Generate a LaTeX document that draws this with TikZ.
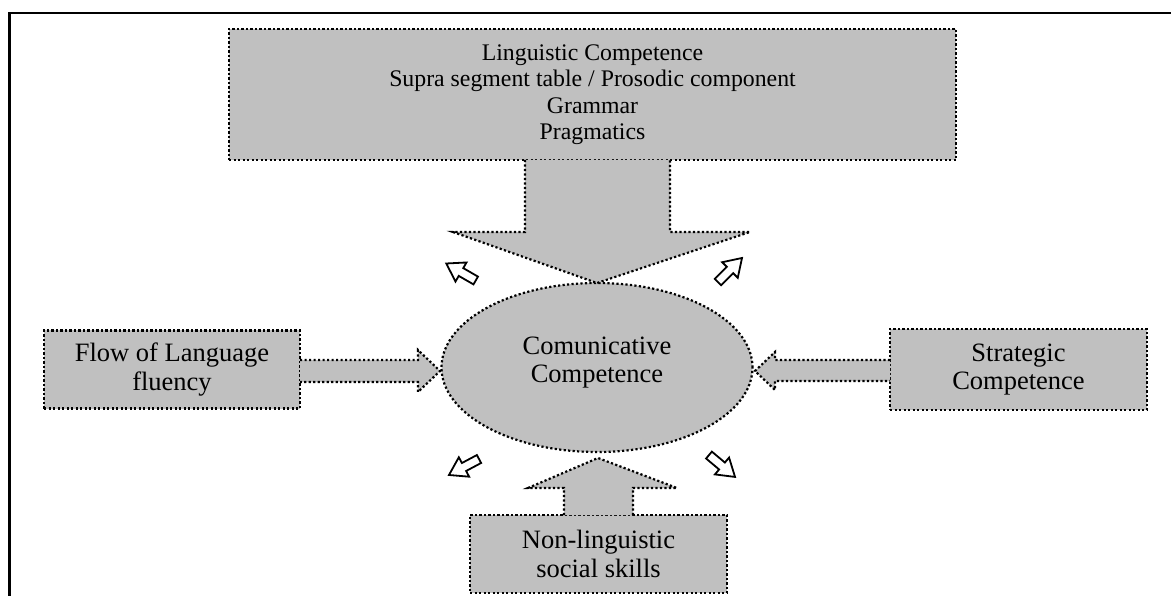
\documentclass[tikz,border=0pt]{standalone}
\usepackage{fontspec}
\setmainfont{Liberation Serif}
\usetikzlibrary{shapes.geometric}
\definecolor{boxgray}{RGB}{192,192,192}
\begin{document}
\begin{tikzpicture}[x=1pt,y=-1pt,
  dotline/.style={line width=2.2pt, dash pattern=on 2.2pt off 2.3pt},
  dotbox/.style={dotline, draw, fill=boxgray, inner sep=0pt, align=center},
  bigtext/.style={font=\fontsize{26.5}{28.5}\selectfont},
  toptext/.style={font=\fontsize{23.8}{26.5}\selectfont},
  openarrow/.pic={\draw[line width=1.8pt, fill=white, line join=miter]
     (-17,-4.5) -- (0,-4.5) -- (0,-11) -- (17,0) -- (0,11) -- (0,4.5) -- (-17,4.5) -- cycle;}
]
\useasboundingbox (0,0) rectangle (1171,596);
% frame
\draw[line width=2.5pt] (9.5,596) -- (9.5,13) -- (1171,13);

% boxes
\node[dotbox, toptext, minimum width=727pt, minimum height=131pt] (ling) at (592.5,94.5)
  {Linguistic Competence\\Supra segment table / Prosodic component\\Grammar\\Pragmatics};
\node[dotbox, bigtext, minimum width=256pt, minimum height=78pt] (flow) at (172,369.5)
  {Flow of Language\\fluency};
\node[dotbox, bigtext, minimum width=257pt, minimum height=81pt] (strat) at (1018.5,369.5)
  {Strategic\\Competence};
\node[dotbox, bigtext, minimum width=257pt, minimum height=78pt] (nonling) at (598.5,554)
  {Non-linguistic\\social skills};

% central ellipse
\node[dotbox, ellipse, minimum width=311pt, minimum height=169pt] (cc) at (597,367.5) {};
\node[bigtext, align=center, inner sep=0pt] (cctext) at (597,362.5) {Comunicative\\Competence};

% block arrows
\draw[dotline, fill=boxgray] (525,160) -- (525,232) -- (453,232) -- (597,283) -- (750,232) -- (670,232) -- (670,160);
\draw[dotline, fill=boxgray] (300,360) -- (418,360) -- (418,350) -- (440,371) -- (418,392) -- (418,382) -- (300,382);
\draw[dotline, fill=boxgray] (890,360) -- (775,360) -- (775,352) -- (755,371) -- (775,390) -- (775,381) -- (890,381);
\draw[dotline, fill=boxgray] (564,515) -- (564,488) -- (528,488) -- (598,458) -- (677,488) -- (633,488) -- (633,515);

% small open arrows
\pic[rotate=150] at (461,272) {openarrow};
\pic[rotate=45] at (730,270) {openarrow};
\pic[rotate=208] at (464,467) {openarrow};
\pic[rotate=-40] at (722,466) {openarrow};
\end{tikzpicture}
\end{document}
